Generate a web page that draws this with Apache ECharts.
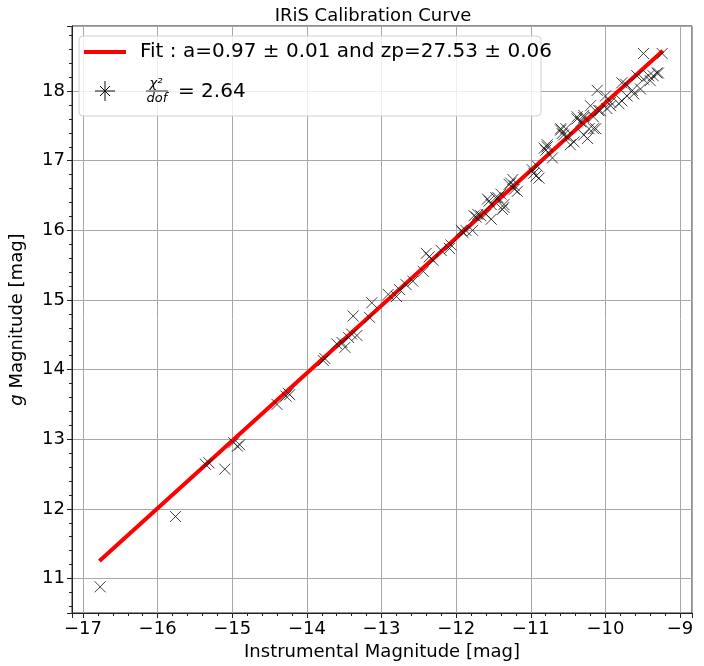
<!DOCTYPE html>
<html>
<head>
<meta charset="utf-8">
<script src="https://cdn.jsdelivr.net/npm/echarts@6/dist/echarts.min.js"></script>
<style>html,body{margin:0;padding:0;background:#fff;}#c{width:704px;height:666px;}</style>
</head>
<body>
<div id="c"></div>
<script>
// Instrumental magnitude (x) vs g magnitude (y)
const points = [
 [-16.77,10.88],[-15.76,11.89],[-15.36,12.64],[-15.31,12.66],[-15.10,12.57],[-14.98,12.95],[-14.93,12.90],[-14.90,12.92],
 [-14.40,13.50],[-14.28,13.62],[-14.25,13.66],[-14.23,13.64],
 [-13.78,14.13],[-13.76,14.16],[-13.60,14.37],[-13.53,14.39],[-13.49,14.32],[-13.44,14.46],[-13.40,14.51],[-13.38,14.77],
 [-13.33,14.49],[-13.16,14.75],[-13.13,14.96],[-12.91,15.08],[-12.80,15.05],[-12.76,15.15],[-12.67,15.22],[-12.58,15.27],
 [-12.44,15.41],[-12.40,15.67],[-12.36,15.62],[-12.31,15.57],[-12.20,15.71],[-12.09,15.74],[-12.07,15.79],[-11.93,16.00],
 [-11.91,15.97],[-11.87,16.00],[-11.78,16.00],[-11.76,16.21],[-11.73,16.19],[-11.71,16.23],[-11.67,16.21],[-11.60,16.23],
 [-11.58,16.45],[-11.56,16.42],[-11.53,16.16],[-11.53,16.37],[-11.47,16.47],[-11.44,16.47],[-11.40,16.52],[-11.38,16.30],
 [-11.36,16.33],[-11.36,16.37],[-11.29,16.66],[-11.27,16.68],[-11.24,16.73],[-11.22,16.64],[-11.22,16.59],[-11.18,16.56],
 [-10.98,16.87],[-10.96,16.82],[-10.93,16.78],[-10.91,16.92],[-10.89,16.75],
 [-10.82,17.18],[-10.80,17.15],[-10.78,17.20],[-10.78,17.23],[-10.71,17.04],[-10.60,17.44],[-10.60,17.46],[-10.58,17.39],
 [-10.56,17.37],[-10.53,17.46],[-10.51,17.34],[-10.47,17.23],[-10.42,17.27],[-10.38,17.63],[-10.38,17.60],[-10.33,17.56],
 [-10.29,17.62],[-10.29,17.65],[-10.29,17.37],[-10.24,17.32],[-10.22,17.46],[-10.20,17.79],[-10.16,17.63],[-10.16,17.46],
 [-10.13,17.46],[-10.11,18.01],[-10.09,17.72],[-10.07,17.72],[-10.00,17.93],[-9.98,17.75],[-9.93,17.84],[-9.93,17.79],
 [-9.82,17.82],[-9.78,18.12],[-9.78,17.86],[-9.73,18.10],[-9.71,17.93],[-9.64,18.01],[-9.62,17.96],[-9.58,18.22],
 [-9.53,18.03],[-9.49,18.17],[-9.49,18.54],[-9.42,18.22],[-9.40,18.15],[-9.36,18.22],[-9.31,18.26],[-9.29,18.26],[-9.24,18.54]
];
// Fit line endpoints (a=0.97, zp=27.53)
const fitLine = [[-16.78,11.25],[-9.23,18.58]];
const titleText = 'IRiS Calibration Curve';
const fitLabel = 'Fit : a=0.97 \u00b1 0.01 and zp=27.53 \u00b1 0.06';
const chiValue = '= 2.64';

const FONT = 'DejaVu Sans';
const chart = echarts.init(document.getElementById('c'), null, {renderer:'canvas'});
const minus = v => String(v).replace('-', '\u2212');
const xSym = 'path://M0,0L10,10M10,0L0,10';

chart.setOption({
  animation:false,
  backgroundColor:'#fff',
  title:{text:titleText,left:368,textAlign:'center',top:2,textStyle:{fontFamily:FONT,fontSize:18,fontWeight:'normal',color:'#000'}},
  grid:{left:69,right:12,top:26,bottom:45,show:true,borderColor:'#222',borderWidth:1,backgroundColor:'transparent'},
  xAxis:{type:'value',min:-17.147,max:-8.84,splitNumber:8,
    name:'Instrumental Magnitude [mag]',nameLocation:'middle',nameGap:30,
    nameTextStyle:{fontFamily:FONT,fontSize:18,color:'#000'},
    axisLine:{show:true,onZero:false,lineStyle:{color:'#222',width:1}},
    axisTick:{show:true,length:5,lineStyle:{color:'#222'}},
    minorTick:{show:true,splitNumber:5,length:3,lineStyle:{color:'#222'}},
    splitLine:{show:true,lineStyle:{color:'#a8a8a8',width:1}},
    axisLabel:{fontFamily:FONT,fontSize:18,color:'#000',margin:7,showMinLabel:false,showMaxLabel:false,formatter:minus}},
  yAxis:{type:'value',min:10.504,max:18.935,splitNumber:8,
    name:'{i|g} Magnitude [mag]',nameLocation:'middle',nameGap:46,nameRotate:90,
    nameTextStyle:{fontFamily:FONT,fontSize:18,color:'#000',rich:{i:{fontFamily:FONT,fontSize:18,fontStyle:'italic',color:'#000'}}},
    axisLine:{show:true,onZero:false,lineStyle:{color:'#222',width:1}},
    axisTick:{show:true,length:5,lineStyle:{color:'#222'}},
    minorTick:{show:true,splitNumber:5,length:3,lineStyle:{color:'#222'}},
    splitLine:{show:true,lineStyle:{color:'#a8a8a8',width:1}},
    axisLabel:{fontFamily:FONT,fontSize:18,color:'#000',margin:7,showMinLabel:false,showMaxLabel:false,formatter:minus}},
  series:[
    {type:'line',data:fitLine,showSymbol:false,symbol:'none',lineStyle:{color:'#ff0000',width:4},z:2},
    {type:'scatter',data:points,symbol:xSym,symbolSize:11,z:3,
      itemStyle:{color:'none',borderColor:'#111',borderWidth:1}}
  ],
  graphic:[
    {type:'rect',shape:{x:79,y:36,width:462,height:80,r:4},style:{fill:'rgba(255,255,255,0.8)',stroke:'#d0d0d0',lineWidth:1},z:10},
    {type:'line',shape:{x1:84,y1:52,x2:126,y2:52},style:{stroke:'#ff0000',lineWidth:4},z:11},
    {type:'text',style:{x:140,y:52,text:fitLabel,fontFamily:FONT,fontSize:20,fill:'#000',verticalAlign:'middle'},z:11},
    {type:'line',shape:{x1:95,y1:91,x2:115,y2:91},style:{stroke:'#111',lineWidth:1},z:11},
    {type:'line',shape:{x1:105,y1:81,x2:105,y2:101},style:{stroke:'#111',lineWidth:1},z:11},
    {type:'line',shape:{x1:100,y1:86,x2:110,y2:96},style:{stroke:'#111',lineWidth:1},z:11},
    {type:'line',shape:{x1:110,y1:86,x2:100,y2:96},style:{stroke:'#111',lineWidth:1},z:11},
    {type:'text',style:{x:156,y:84,text:'\u03c7\u00b2',fontFamily:FONT,fontSize:13,fontStyle:'italic',fill:'#000',align:'center',verticalAlign:'middle'},z:11},
    {type:'line',shape:{x1:146,y1:91,x2:168,y2:91},style:{stroke:'#000',lineWidth:0.8},z:11},
    {type:'text',style:{x:157,y:99,text:'dof',fontFamily:FONT,fontSize:13,fontStyle:'italic',fill:'#000',align:'center',verticalAlign:'middle'},z:11},
    {type:'text',style:{x:178,y:92,text:chiValue,fontFamily:FONT,fontSize:20,fill:'#000',verticalAlign:'middle'},z:11}
  ]
});
</script>
</body>
</html>
